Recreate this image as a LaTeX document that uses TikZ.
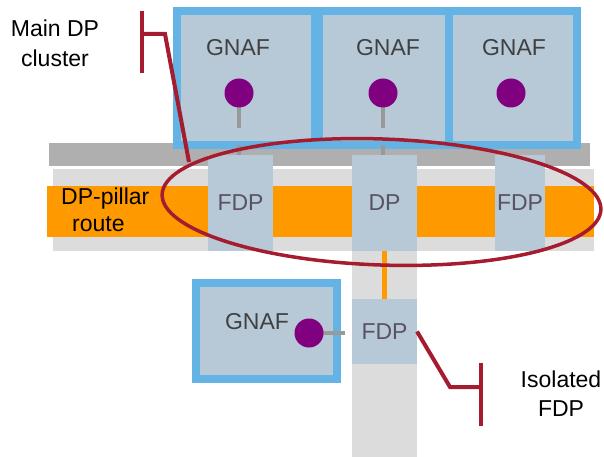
\documentclass[tikz,border=0pt]{standalone}
\usepackage{fontspec}
\setmainfont{Liberation Sans}
\usetikzlibrary{calc}
\definecolor{boxfill}{HTML}{B7C9D7}
\definecolor{gnafblue}{HTML}{63B4E4}
\definecolor{barlight}{HTML}{DCDCDC}
\definecolor{bardark}{HTML}{AFAFAF}
\definecolor{routeorange}{HTML}{FF9900}
\definecolor{dotpurple}{HTML}{800080}
\definecolor{callred}{HTML}{A51C30}
\definecolor{stemgray}{HTML}{999999}
\definecolor{gnaftext}{HTML}{404040}
\definecolor{fdptext}{HTML}{5A5264}
\newcommand{\diagfont}{\fontsize{23}{28}\selectfont}
\tikzset{
    gnaf/.style={
        draw=gnafblue,
        fill=boxfill,
        line width=8pt,
        inner sep=0pt,
        outer sep=0pt
    },
    fdp/.style={
        fill=boxfill,
        inner sep=0pt,
        outer sep=0pt,
        minimum width=65pt,
        minimum height=96pt,
        text=fdptext,
        font=\diagfont
    },
    gnaflbl/.style={
        anchor=base,
        inner sep=0pt,
        text=gnaftext,
        font=\diagfont
    },
    dot/.style={
        circle,
        fill=dotpurple,
        minimum size=29pt,
        inner sep=0pt
    },
    stem/.style={
        draw=stemgray,
        line width=4.5pt
    },
    callout/.style={
        draw=callred,
        line width=4pt
    },
    lbl/.style={
        inner sep=0pt,
        font=\diagfont
    }
}

\begin{document}
\begin{tikzpicture}[x=1pt, y=-1pt]
\useasboundingbox (0,0) rectangle (604,457);

% bars and pillar
\fill[bardark] (49,143) rectangle (590,166);
\fill[barlight] (53,169) rectangle (594,251);
\fill[routeorange] (47,186) rectangle (594,237);
\fill[barlight] (352,169) rectangle (417,457);

% distribution points
\node[fdp] (fdpl) at (240.5,203) {FDP};
\node[fdp] (dp) at (384.5,203) {DP};
\node[fdp, minimum width=50pt] (fdpr) at (520,203) {FDP};
\node[fdp, minimum height=65pt] (fdpi) at (384.5,331.5) {FDP};

% main cluster
\node[gnaf, minimum width=138pt, minimum height=134pt] (gnafa) at (246,78) {};
\node[gnaf, minimum width=130pt, minimum height=134pt] (gnafb) at (384,78) {};
\node[gnaf, minimum width=128pt, minimum height=134pt] (gnafc) at (513,78) {};
\node[gnaflbl] at (238,56) {GNAF};
\node[gnaflbl] at (388,56) {GNAF};
\node[gnaflbl] at (514,56) {GNAF};

% isolated gnaf
\node[gnaf, minimum width=141pt, minimum height=96pt] (gnafd) at (266.5,331) {};
\node[gnaflbl] at (257,329) {GNAF};

% stems
\coordinate (sa) at (239,128);
\coordinate (ta) at (239,145);
\coordinate (sb) at (383,128);
\coordinate (tb) at (383,145);
\coordinate (sd) at (345,333);
\draw[stem] (239,93) -- (sa);
\draw[stem] (ta) -- (ta |- fdpl.north);
\draw[stem] (383,93) -- (sb);
\draw[stem] (tb) -- (tb |- dp.north);
\draw[stem] (309,333) -- (sd);
\draw[routeorange, line width=5pt] (dp.south) -- (fdpi.north);

\node[dot] (da) at (239,93) {};
\node[dot] (db) at (383,93) {};
\node[dot] (dc) at (511,93) {};
\node[dot] (dd) at (309,333) {};

% labels
\node[lbl, align=center, font=\fontsize{23}{30}\selectfont] (mainlbl) at (55,43) {Main DP\\cluster};
\node[lbl, align=left, anchor=west, font=\fontsize{23}{27}\selectfont] (routelbl) at (61,210) {DP-pillar\\\hspace*{11pt}route};
\node[lbl, align=center, font=\fontsize{23}{29}\selectfont] (isolbl) at (561,394) {Isolated\\FDP};

% callouts
\draw[callred, line width=3.5pt, rotate around={-2:(381.5,202)}] (381.5,202) ellipse [x radius=219.5, y radius=63];
\coordinate (ma) at (142,34);
\coordinate (mb) at (165,34);
\draw[callout] (142,11) -- (142,73);
\draw[callout] (ma) -- (mb) -- (189,162);
\coordinate (ia) at (481,387);
\coordinate (ib) at (450,387);
\draw[callout] (481,363) -- (481,426);
\draw[callout] (ia) -- (ib) -- (fdpi.east);

\end{tikzpicture}
\end{document}
